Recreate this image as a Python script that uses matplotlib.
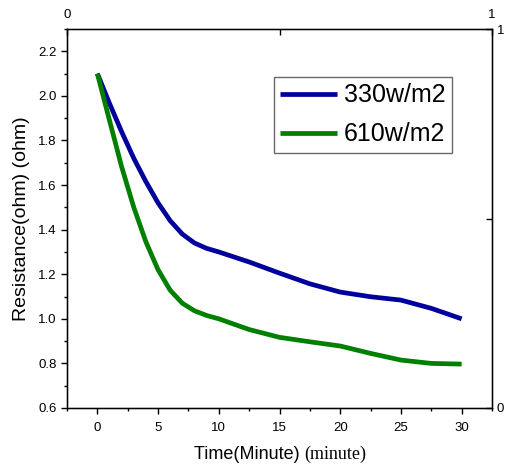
import matplotlib
matplotlib.use("Agg")
import matplotlib.pyplot as plt
from matplotlib.ticker import MultipleLocator

# Data
time_330 = [0, 1, 2, 3, 4, 5, 6, 7, 8, 9, 10, 12.5, 15, 17.5, 20, 22.5, 25, 27.5, 30]
res_330 = [2.10, 1.966, 1.839, 1.72, 1.615, 1.52, 1.44, 1.38, 1.34, 1.316, 1.30,
           1.255, 1.205, 1.157, 1.12, 1.099, 1.084, 1.047, 1.00]
time_610 = [0, 1, 2, 3, 4, 5, 6, 7, 8, 9, 10, 12.5, 15, 17.5, 20, 22.5, 25, 27.5, 30]
res_610 = [2.10, 1.89, 1.682, 1.50, 1.345, 1.22, 1.128, 1.07, 1.036, 1.015, 1.0,
           0.952, 0.917, 0.897, 0.878, 0.845, 0.815, 0.80, 0.797]
labels = ["330w/m2", "610w/m2"]
colors = ["#00009c", "#007f00"]

SANS = "Liberation Sans"
SERIF = "Liberation Serif"

fig = plt.figure(figsize=(5.05, 4.72), dpi=100)
ax = fig.add_axes([67/505, 64/472, 425/505, 379/472])

ax.plot(time_330, res_330, color=colors[0], lw=3.4, label=labels[0],
        solid_capstyle="butt", solid_joinstyle="round")
ax.plot(time_610, res_610, color=colors[1], lw=3.4, label=labels[1],
        solid_capstyle="butt", solid_joinstyle="round")

ax.set_xlim(-2.5, 32.5)
ax.set_ylim(0.6, 2.3)
ax.xaxis.set_minor_locator(MultipleLocator(2.5))
ax.yaxis.set_minor_locator(MultipleLocator(0.1))
ax.set_xticks([0, 5, 10, 15, 20, 25, 30])
ax.set_yticks([0.6, 0.8, 1.0, 1.2, 1.4, 1.6, 1.8, 2.0, 2.2])
ax.set_yticklabels(["0.6", "0.8", "1.0", "1.2", "1.4", "1.6", "1.8", "2.0", "2.2"])
ax.tick_params(which="major", direction="out", length=4, width=1, labelsize=9.5)
ax.tick_params(axis="x", which="major", pad=6)
ax.tick_params(which="minor", direction="out", length=2.5, width=1)
for lab in ax.get_xticklabels() + ax.get_yticklabels():
    lab.set_fontfamily(SANS)
for s in ax.spines.values():
    s.set_linewidth(1)

# top axis
axt = ax.twiny()
axt.set_xlim(0, 1)
axt.set_xticks([0, 0.5, 1])
axt.set_xticklabels(["0", "", "1"], fontfamily=SANS, fontsize=9.5)
axt.tick_params(direction="in", length=4, width=1, pad=6)
axt.xaxis.set_minor_locator(plt.NullLocator())
# right axis
axr = ax.twinx()
axr.set_ylim(0, 1)
axr.set_yticks([0, 0.5, 1])
axr.set_yticklabels(["0", "", "1"], fontfamily=SANS, fontsize=9.5)
axr.tick_params(direction="in", length=4, width=1)
axr.yaxis.set_minor_locator(plt.NullLocator())

leg = ax.legend(loc="upper right", bbox_to_anchor=(452/505, 1 - 77/472), bbox_transform=fig.transFigure,
                prop={"family": SANS, "size": 18}, frameon=True, fancybox=False,
                edgecolor="#444444", handlelength=2.25, handletextpad=0.3, borderpad=0.25,
                labelspacing=0.6, borderaxespad=0)
leg.get_frame().set_linewidth(1)

ax.set_ylabel("Resistance(ohm) (ohm)", fontfamily=SANS, fontsize=14, labelpad=6)

# x label with mixed fonts
fig.canvas.draw()
r = fig.canvas.get_renderer()
t1 = fig.text(0, 0.5, "Time(Minute) ", fontfamily=SANS, fontsize=13)
t2 = fig.text(0, 0.5, "(minute)", fontfamily=SERIF, fontsize=13)
w1 = t1.get_window_extent(r).width
w2 = t2.get_window_extent(r).width
cx = 280
ybase = 13
t1.set_position(((cx - (w1 + w2) / 2) / 505, ybase / 472))
t2.set_position(((cx - (w1 + w2) / 2 + w1) / 505, ybase / 472))

fig.savefig("out.png", dpi=100)
